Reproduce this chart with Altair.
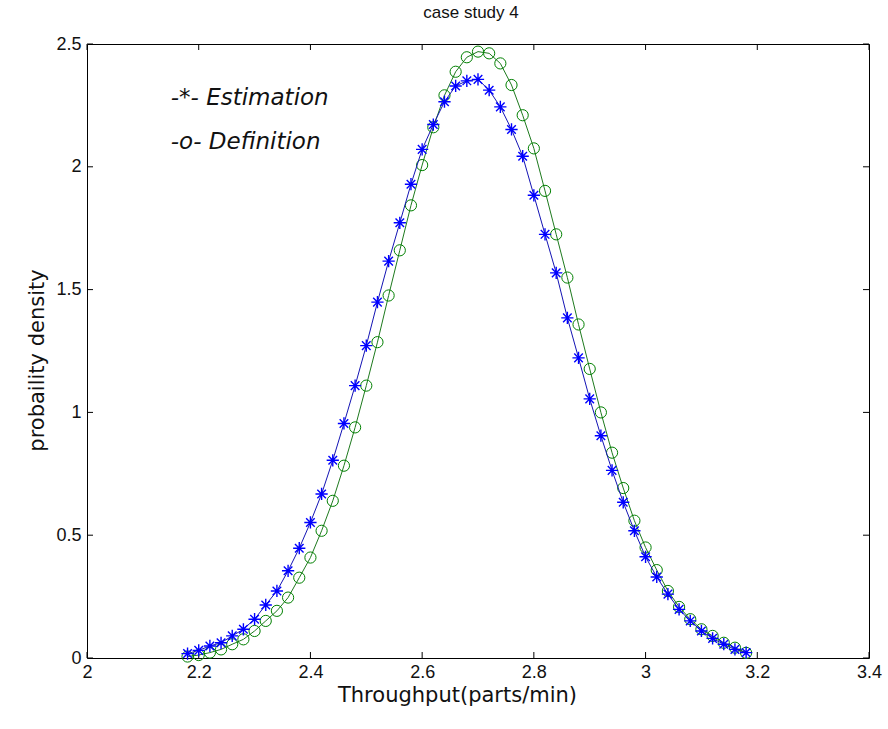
import altair as alt
import pandas as pd

# ---- data ----
x_values = [2.18, 2.20, 2.22, 2.24, 2.26, 2.28, 2.30, 2.32, 2.34, 2.36,
            2.38, 2.40, 2.42, 2.44, 2.46, 2.48, 2.50, 2.52, 2.54, 2.56,
            2.58, 2.60, 2.62, 2.64, 2.66, 2.68, 2.70, 2.72, 2.74, 2.76,
            2.78, 2.80, 2.82, 2.84, 2.86, 2.88, 2.90, 2.92, 2.94, 2.96,
            2.98, 3.00, 3.02, 3.04, 3.06, 3.08, 3.10, 3.12, 3.14, 3.16, 3.18]

estimation = [0.018, 0.031, 0.049, 0.062, 0.090, 0.117, 0.158, 0.216, 0.273, 0.355,
              0.447, 0.552, 0.668, 0.805, 0.955, 1.109, 1.272, 1.449, 1.616, 1.772,
              1.929, 2.071, 2.172, 2.265, 2.329, 2.350, 2.356, 2.312, 2.244, 2.152,
              2.043, 1.884, 1.725, 1.568, 1.385, 1.222, 1.055, 0.905, 0.764, 0.634,
              0.518, 0.412, 0.330, 0.260, 0.198, 0.151, 0.110, 0.080, 0.056, 0.035, 0.022]

definition = [0.006, 0.012, 0.022, 0.035, 0.056, 0.076, 0.110, 0.151, 0.192, 0.246,
              0.327, 0.409, 0.518, 0.640, 0.783, 0.939, 1.109, 1.286, 1.476, 1.660,
              1.843, 2.007, 2.161, 2.291, 2.387, 2.446, 2.469, 2.462, 2.421, 2.333,
              2.210, 2.075, 1.902, 1.725, 1.549, 1.358, 1.177, 1.000, 0.836, 0.692,
              0.559, 0.450, 0.358, 0.273, 0.208, 0.158, 0.117, 0.090, 0.062, 0.042, 0.021]

x_ticks = [2.0, 2.2, 2.4, 2.6, 2.8, 3.0, 3.2, 3.4]
y_ticks = [0, 0.5, 1, 1.5, 2, 2.5]

legend_labels = ["-*- Estimation", "-o- Definition"]
legend_x = [2.15, 2.15]
legend_y = [2.28, 2.10]

chart_title = "case study 4"
x_title = "Throughput(parts/min)"
y_title = "probaility density"

# ---- layout / style ----
W, H = 782, 614
TICK = 6
FONT = "Liberation Sans"
TFONT = "DejaVu Sans"
BLUE = "#0000ff"
GREEN = "#008000"
BLUE_LINE = "#1414b4"
GREEN_LINE = "#1e7a1e"
STAR = "M-1,0L1,0M0,-1L0,1M-0.7,-0.7L0.7,0.7M-0.7,0.7L0.7,-0.7"

est_df = pd.DataFrame({"x": x_values, "y": estimation})
def_df = pd.DataFrame({"x": x_values, "y": definition})
xt_df = pd.DataFrame({"t": x_ticks})
yt_df = pd.DataFrame({"t": y_ticks})
lab_df = pd.DataFrame({"x": legend_x, "y": legend_y, "label": legend_labels})

xscale = alt.Scale(domain=[2.0, 3.4], nice=False, zero=False)
yscale = alt.Scale(domain=[0, 2.5], nice=False, zero=False)

xaxis = alt.Axis(values=x_ticks, title=x_title, grid=False, ticks=False, domain=False,
                 format="~g", labelPadding=5, titlePadding=3, labelFlush=False,
                 titleX=370, titleAnchor="middle")
yaxis = alt.Axis(values=y_ticks, title=y_title, grid=False, ticks=False, domain=False,
                 format="~g", labelPadding=6, titlePadding=8, labelFlush=False,
                 titleY=316, titleAnchor="middle")

X = lambda f: alt.X(f, type="quantitative", scale=xscale, axis=xaxis)
Y = lambda f: alt.Y(f, type="quantitative", scale=yscale, axis=yaxis)

def_line = alt.Chart(def_df).mark_line(color=GREEN_LINE, strokeWidth=1).encode(x=X("x"), y=Y("y"))
def_pts = alt.Chart(def_df).mark_point(shape="circle", size=125, filled=False,
                                       color=GREEN, strokeWidth=1, opacity=1).encode(x=X("x"), y=Y("y"))
est_line = alt.Chart(est_df).mark_line(color=BLUE_LINE, strokeWidth=1).encode(x=X("x"), y=Y("y"))
est_pts = alt.Chart(est_df).mark_point(shape=STAR, size=150, filled=False,
                                       color=BLUE, strokeWidth=1.4, opacity=1).encode(x=X("x"), y=Y("y"))

tick_style = dict(color="black", strokeWidth=1)
bottom_ticks = alt.Chart(xt_df).mark_rule(**tick_style).encode(
    x=X("t"), y=alt.value(H), y2=alt.value(H - TICK))
top_ticks = alt.Chart(xt_df).mark_rule(**tick_style).encode(
    x=X("t"), y=alt.value(0), y2=alt.value(TICK))
left_ticks = alt.Chart(yt_df).mark_rule(**tick_style).encode(
    y=Y("t"), x=alt.value(0), x2=alt.value(TICK))
right_ticks = alt.Chart(yt_df).mark_rule(**tick_style).encode(
    y=Y("t"), x=alt.value(W), x2=alt.value(W - TICK))

labels = alt.Chart(lab_df).mark_text(align="left", baseline="middle", font=TFONT,
                                     fontSize=23, fontStyle="italic", color="#111111").encode(
    x=X("x"), y=Y("y"), text="label:N")

chart = alt.layer(
    bottom_ticks, top_ticks, left_ticks, right_ticks,
    def_line, def_pts, est_line, est_pts, labels
).properties(
    width=W, height=H,
    title=alt.TitleParams(chart_title, font=FONT, fontSize=17, fontWeight="normal",
                          color="#111111", anchor="middle", offset=13, dx=-7),
    autosize=alt.AutoSizeParams(type="none"),
    padding={"left": 87, "top": 44, "right": 19, "bottom": 71},
).configure(
    background="white"
).configure_view(
    stroke="black", strokeWidth=1
).configure_axis(
    labelFont=FONT, labelFontSize=18, labelColor="#111111",
    titleFont=TFONT, titleFontSize=21, titleFontWeight="normal", titleColor="#111111"
)

chart.save("out.html", embed_options={"renderer": "svg", "actions": False})
